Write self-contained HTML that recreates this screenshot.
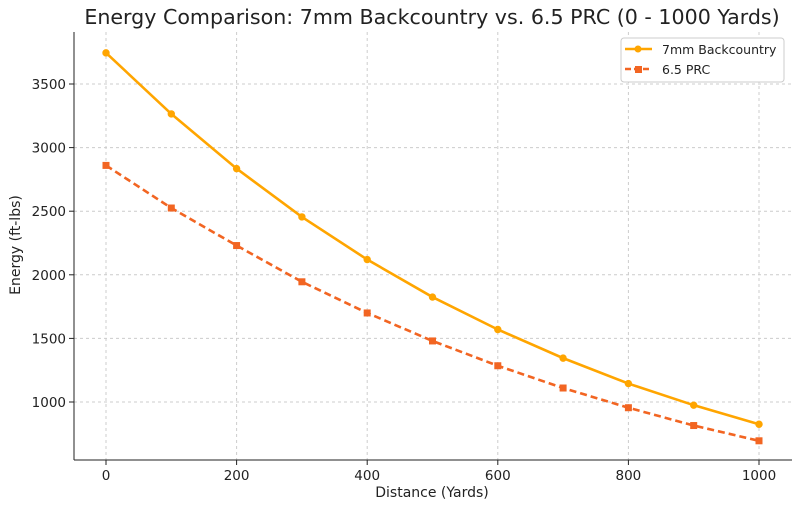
<!DOCTYPE html>
<html><head><meta charset="utf-8"><style>
body{margin:0;background:#fff}
text{font-family:"DejaVu Sans","Liberation Sans",sans-serif;fill:#222}
</style></head><body>
<svg id="chart" width="800" height="510" xmlns="http://www.w3.org/2000/svg">
<text x="432" y="24" font-size="20.6" text-anchor="middle">Energy Comparison: 7mm Backcountry vs. 6.5 PRC (0 - 1000 Yards)</text>
<g id="grid"></g><g id="axes"></g><g id="series"></g>
<text x="432" y="497" font-size="14" text-anchor="middle">Distance (Yards)</text>
<text transform="translate(20,245) rotate(-90)" font-size="14" text-anchor="middle">Energy (ft-lbs)</text>
<g>
<rect x="621" y="38" width="163" height="44" rx="3" fill="#fff" stroke="#ccc"/>
<line x1="625" y1="49" x2="652" y2="49" stroke="#ffa500" stroke-width="2.5"/><circle cx="638" cy="49" r="3.5" fill="#ffa500"/>
<text x="662" y="54" font-size="12.5">7mm Backcountry</text>
<line x1="625" y1="69" x2="652" y2="69" stroke="#f26522" stroke-width="2.5" stroke-dasharray="6,3"/><rect x="635" y="66" width="7" height="7" fill="#f26522"/>
<text x="662" y="74" font-size="12.5">6.5 PRC</text>
</g>
</svg>
<script>
const distances=[0,100,200,300,400,500,600,700,800,900,1000];
const energy7mm=[3745,3265,2835,2455,2120,1825,1570,1345,1145,975,825];
const energy65=[2860,2525,2230,1945,1700,1480,1285,1110,955,815,695];
const xTicks=[0,200,400,600,800,1000];
const yTicks=[1000,1500,2000,2500,3000,3500];
const NS="http://www.w3.org/2000/svg";
const X=v=>106+v*0.653;
const Y=v=>84+(3500-v)*0.1272;
const L=74,R=792,T=32,B=460;
function mk(t,a,p){const e=document.createElementNS(NS,t);for(const k in a)e.setAttribute(k,a[k]);p.appendChild(e);return e;}
const g=document.getElementById('grid'),ax=document.getElementById('axes'),s=document.getElementById('series');
xTicks.forEach(v=>{
 const l=mk('line',{x1:X(v),x2:X(v),y1:T,y2:B,stroke:'#ccc','stroke-dasharray':'3,3'},g);
 
 
 mk('line',{x1:X(v),x2:X(v),y1:B,y2:B+5,stroke:'#222'},ax);
 const t=mk('text',{x:X(v),y:B+20,'font-size':13.5,'text-anchor':'middle'},ax);t.textContent=v;
 
 
});
yTicks.forEach(v=>{
 const l=mk('line',{x1:L,x2:R,y1:Y(v),y2:Y(v),stroke:'#ccc','stroke-dasharray':'3,3'},g);
 
 
 mk('line',{x1:L-5,x2:L,y1:Y(v),y2:Y(v),stroke:'#222'},ax);
 const t=mk('text',{x:L-8,y:Y(v)+5,'font-size':13.5,'text-anchor':'end'},ax);t.textContent=v;
 
 
});
mk('line',{x1:L,x2:L,y1:T,y2:B,stroke:'#222'},ax);
mk('line',{x1:L,x2:R,y1:B,y2:B,stroke:'#222'},ax);
function series(vals,color,dash,sq,name){
 const p=mk('polyline',{points:distances.map((d,i)=>X(d)+','+Y(vals[i])).join(' '),fill:'none',stroke:color,'stroke-width':2.6,'stroke-dasharray':dash},s);
 
 
 distances.forEach((d,i)=>{
  const m=sq?mk('rect',{x:X(d)-3.5,y:Y(vals[i])-3.5,width:7,height:7,fill:color},s):mk('circle',{cx:X(d),cy:Y(vals[i]),r:3.7,fill:color},s);
  
  
 });
}
series(energy7mm,'#ffa500','none',false,'7mm');
series(energy65,'#f26522','7,4',true,'65prc');
</script>
</body></html>
